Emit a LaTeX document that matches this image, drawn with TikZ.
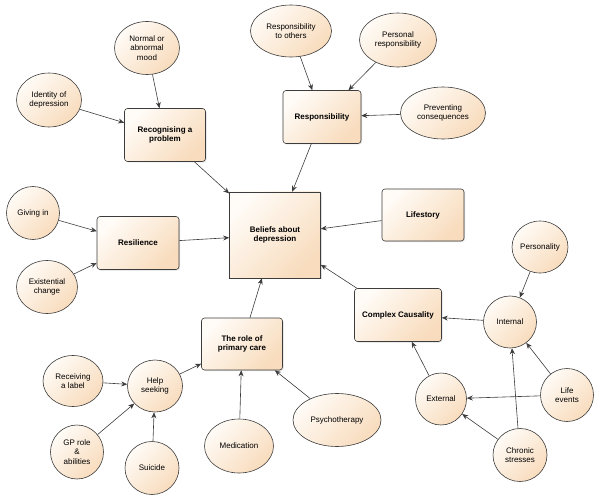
\documentclass[tikz,border=0pt]{standalone}
\usepackage{fontspec}
\setmainfont{Liberation Sans}
\usetikzlibrary{shapes.geometric,arrows.meta,shadows}
\definecolor{peachlight}{HTML}{FFFBF6}
\definecolor{peachdark}{HTML}{F8DCBD}
\definecolor{edgegray}{HTML}{3C3C3C}
\begin{document}
\begin{tikzpicture}[x=1pt,y=-1pt,
  fillshade/.style={top color=peachlight,bottom color=peachdark,shading angle=45},
  boxnode/.style={draw=edgegray,line width=0.6pt,fillshade,rounded corners=3pt,
    font=\fontsize{8}{9.5}\selectfont\bfseries,align=center,inner sep=0pt,
    drop shadow={shadow xshift=1pt,shadow yshift=-1pt,opacity=0.25}},
  ellnode/.style={draw=edgegray,line width=0.6pt,fillshade,ellipse,
    font=\fontsize{8}{9.5}\selectfont,align=center,inner sep=0pt},
  conn/.style={draw=edgegray,line width=0.6pt,-{Stealth[length=6pt,width=5pt]}}
  ]
\useasboundingbox (0,0) rectangle (600,500);
% boxes
\node[boxnode,minimum width=81pt,minimum height=53pt] (rec) at (165,135) {Recognising a\\problem};
\node[boxnode,minimum width=78pt,minimum height=53pt] (resp) at (322,117) {Responsibility};
\node[boxnode,rounded corners=0pt,minimum width=91pt,minimum height=86pt] (bel) at (275,235) {Beliefs about\\depression};
\node[boxnode,minimum width=82pt,minimum height=52pt] (life) at (423,215) {Lifestory};
\node[boxnode,minimum width=82pt,minimum height=53pt] (resil) at (138,243) {Resilience};
\node[boxnode,minimum width=81pt,minimum height=52pt] (role) at (242,344) {The role of\\primary care};
\node[boxnode,minimum width=87pt,minimum height=53pt] (cc) at (398,315) {Complex Causality};
% ellipses
\node[ellnode,minimum width=65pt,minimum height=53pt] (mood) at (147,48) {Normal or\\abnormal\\mood};
\node[ellnode,minimum width=65pt,minimum height=54pt] (ident) at (49,100) {Identity of\\depression};
\node[ellnode,minimum width=53pt,minimum height=53pt] (give) at (33,213) {Giving in};
\node[ellnode,minimum width=61pt,minimum height=53pt] (exist) at (47,287) {Existential\\change};
\node[ellnode,minimum width=81pt,minimum height=52pt] (others) at (291,31) {Responsibility\\to others};
\node[ellnode,minimum width=77pt,minimum height=54pt] (pers) at (398,40) {Personal\\responsibility};
\node[ellnode,minimum width=85pt,minimum height=52pt] (prev) at (443,113) {Preventing\\consequences};
\node[ellnode,minimum width=55pt,minimum height=52pt] (personality) at (540,247) {Personality};
\node[ellnode,minimum width=53pt,minimum height=52pt] (int) at (510,322) {Internal};
\node[ellnode,minimum width=51pt,minimum height=52pt] (ext) at (441,399) {External};
\node[ellnode,minimum width=53pt,minimum height=53pt] (levents) at (567,395) {Life\\events};
\node[ellnode,minimum width=54pt,minimum height=53pt] (chronic) at (520,455) {Chronic\\stresses};
\node[ellnode,minimum width=88pt,minimum height=53pt] (psycho) at (337,420) {Psychotherapy};
\node[ellnode,minimum width=69pt,minimum height=54pt] (med) at (239,446) {Medication};
\node[ellnode,minimum width=54pt,minimum height=53pt] (suic) at (152,468) {Suicide};
\node[ellnode,minimum width=53pt,minimum height=54pt] (gp) at (77,452) {GP role\\\&\\abilities};
\node[ellnode,minimum width=60pt,minimum height=51pt] (label) at (73,381) {Receiving\\a label};
\node[ellnode,minimum width=55pt,minimum height=52pt] (help) at (155,386) {Help\\seeking};
% connectors
\draw[conn] (mood) -- (rec);
\draw[conn] (ident) -- (rec);
\draw[conn] (rec) -- (bel);
\draw[conn] (others) -- (resp);
\draw[conn] (pers) -- (resp);
\draw[conn] (prev) -- (resp);
\draw[conn] (resp) -- (bel);
\draw[conn] (life) -- (bel);
\draw[conn] (give) -- (resil);
\draw[conn] (exist) -- (resil);
\draw[conn] (resil) -- (bel);
\draw[conn] (role) -- (bel);
\draw[conn] (cc) -- (bel);
\draw[conn] (int) -- (cc);
\draw[conn] (ext) -- (cc);
\draw[conn] (personality) -- (int);
\draw[conn] (levents) -- (int);
\draw[conn] (levents) -- (ext);
\draw[conn] (chronic) -- (int);
\draw[conn] (chronic) -- (ext);
\draw[conn] (label) -- (help);
\draw[conn] (gp) -- (help);
\draw[conn] (suic) -- (help);
\draw[conn] (help) -- (role);
\draw[conn] (med) -- (role);
\draw[conn] (psycho) -- (role);
\end{tikzpicture}
\end{document}
